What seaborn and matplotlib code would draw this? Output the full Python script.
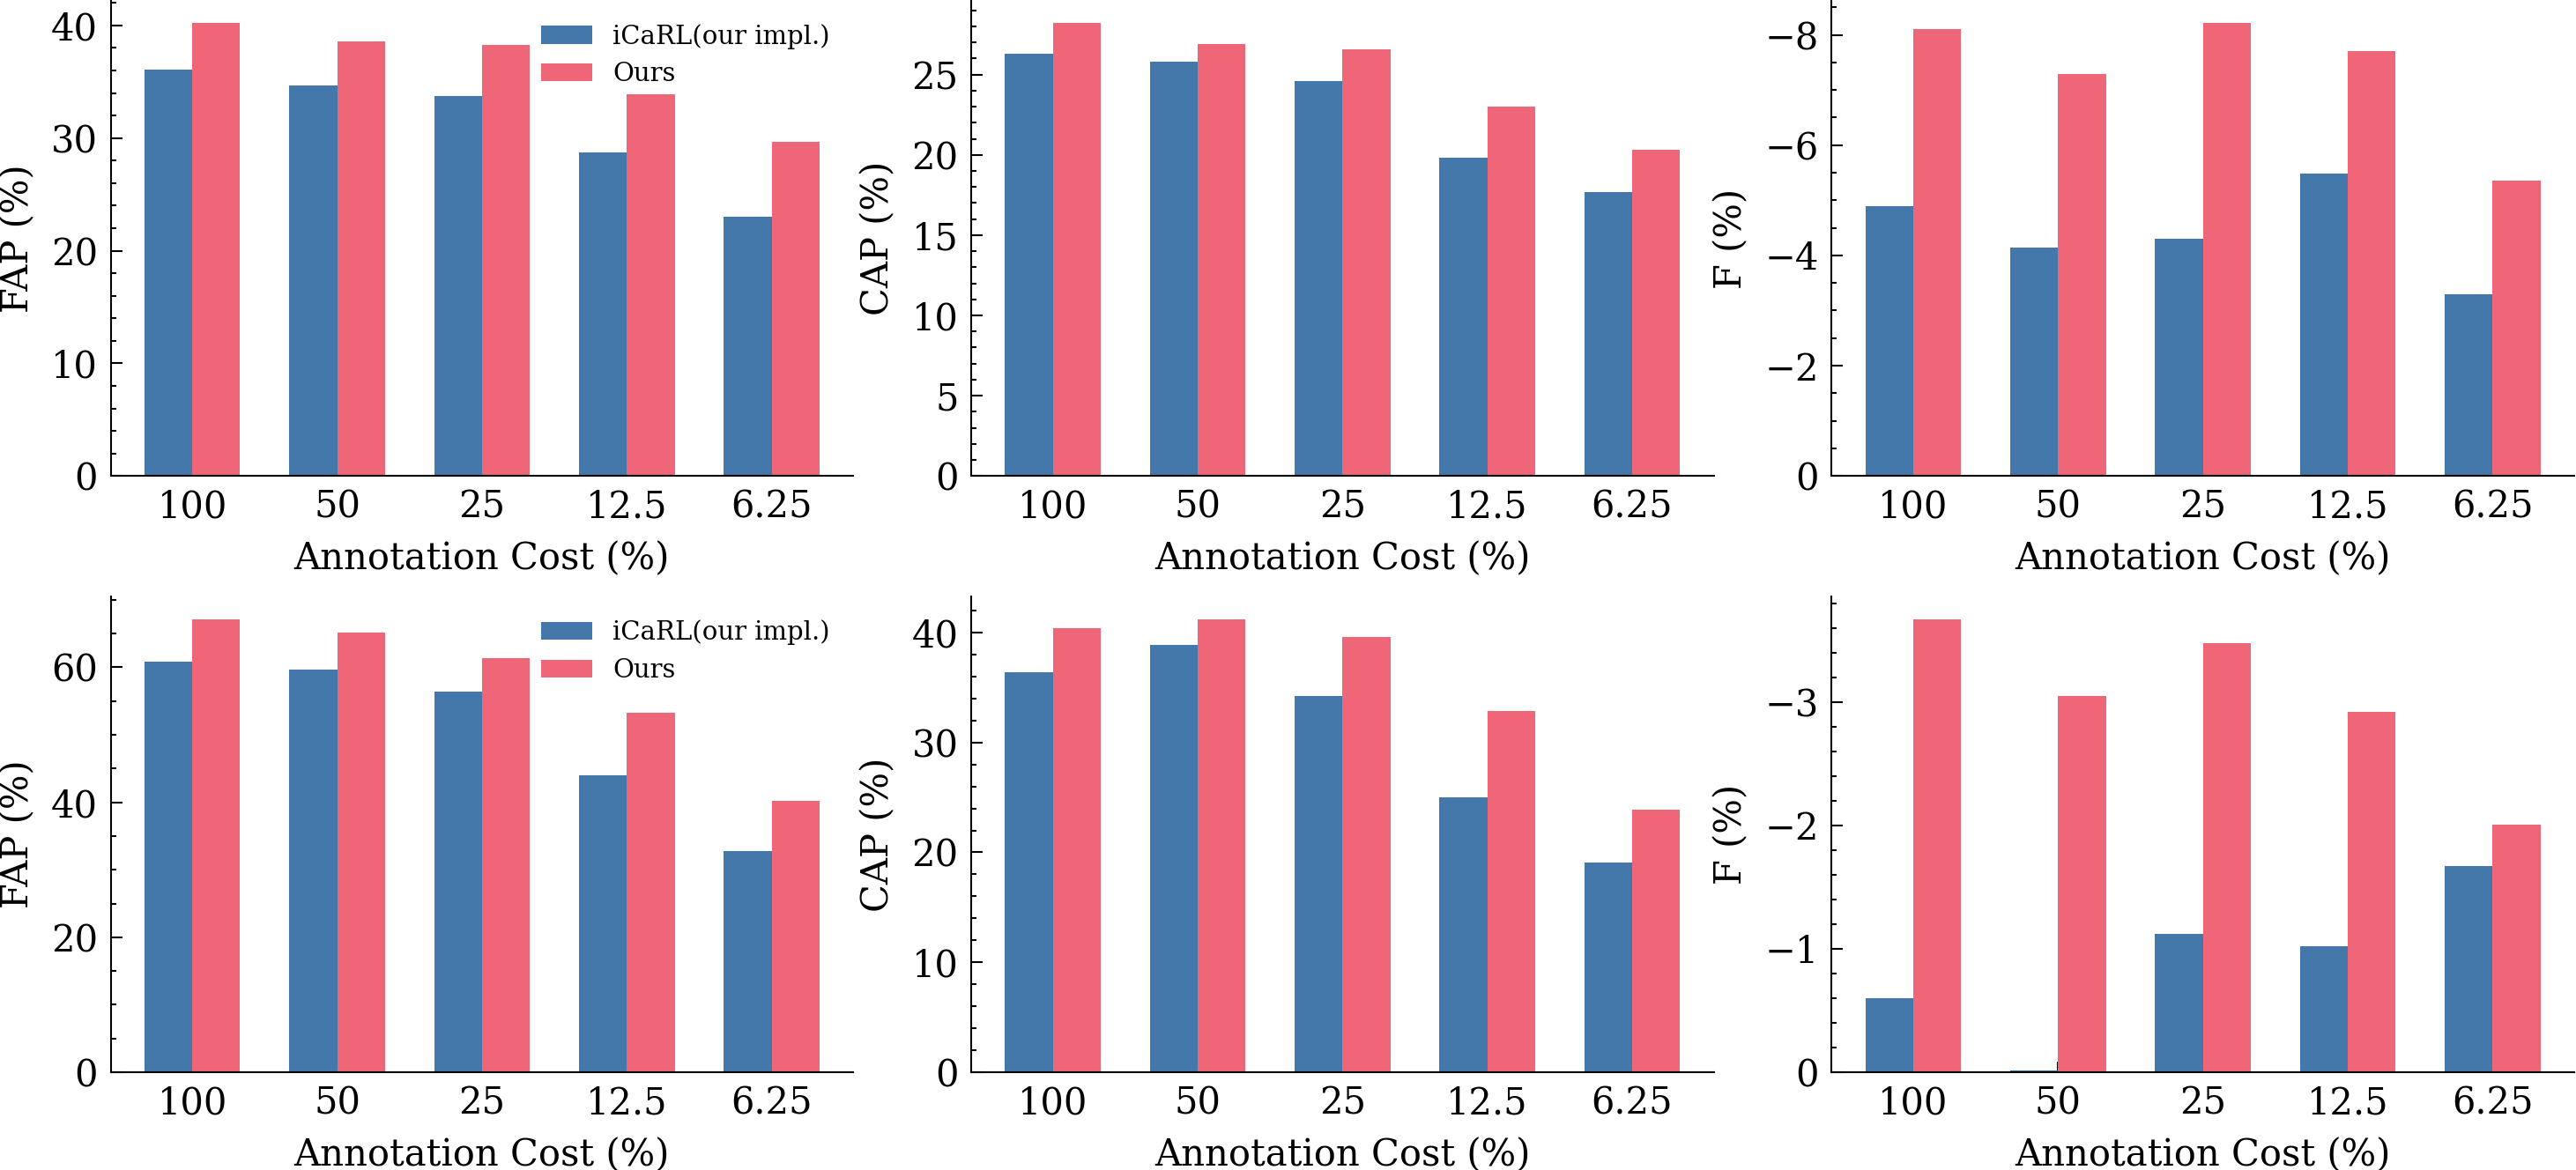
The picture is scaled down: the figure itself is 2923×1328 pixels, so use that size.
import pandas as pd
import matplotlib.pyplot as plt
import seaborn as sns
from matplotlib.ticker import AutoMinorLocator

# annotation cost (%) on the x axis
costs = ['100', '50', '25', '12.5', '6.25']
methods = ['iCaRL(our impl.)', 'Ours']

# top row
fap_top_icarl = [36.1, 34.7, 33.7, 28.7, 23.0]
fap_top_ours = [40.2, 38.6, 38.3, 33.9, 29.7]
cap_top_icarl = [26.3, 25.8, 24.6, 19.8, 17.7]
cap_top_ours = [28.2, 26.9, 26.6, 23.0, 20.3]
f_top_icarl = [-4.89, -4.15, -4.30, -5.48, -3.30]
f_top_ours = [-8.10, -7.29, -8.21, -7.71, -5.36]

# bottom row
fap_bot_icarl = [60.8, 59.6, 56.4, 44.0, 32.8]
fap_bot_ours = [67.1, 65.1, 61.3, 53.3, 40.2]
cap_bot_icarl = [36.4, 38.9, 34.2, 25.0, 19.1]
cap_bot_ours = [40.4, 41.2, 39.6, 32.9, 23.9]
f_bot_icarl = [-0.60, -0.015, -1.12, -1.02, -1.67]
f_bot_ours = [-3.67, -3.05, -3.48, -2.92, -2.01]

sns.set_style('ticks', {'axes.edgecolor': 'black', 'xtick.color': 'black',
                        'ytick.color': 'black', 'text.color': 'black',
                        'axes.labelcolor': 'black'})
plt.rcParams['font.family'] = ['DejaVu Serif']
plt.rcParams['axes.linewidth'] = 0.5

palette = {'iCaRL(our impl.)': '#4477AA', 'Ours': '#EE6677'}


def make_df(icarl, ours):
    return pd.DataFrame({
        'cost': costs * 2,
        'method': [methods[0]] * len(costs) + [methods[1]] * len(costs),
        'value': list(icarl) + list(ours),
    })


panels = [
    (fap_top_icarl, fap_top_ours, 'FAP (%)', True, False),
    (cap_top_icarl, cap_top_ours, 'CAP (%)', False, False),
    (f_top_icarl, f_top_ours, 'F (%)', False, True),
    (fap_bot_icarl, fap_bot_ours, 'FAP (%)', True, False),
    (cap_bot_icarl, cap_bot_ours, 'CAP (%)', False, False),
    (f_bot_icarl, f_bot_ours, 'F (%)', False, True),
]

fig, axes = plt.subplots(2, 3, figsize=(2923 / 300, 1328 / 300), dpi=300)
fig.subplots_adjust(left=0.043, right=0.9993, bottom=0.0836, top=0.9995,
                    wspace=0.159, hspace=0.254)

for ax, (icarl, ours, ylabel, show_legend, invert) in zip(axes.flat, panels):
    df = make_df(icarl, ours)
    sns.barplot(data=df, x='cost', y='value', hue='method', order=costs,
                hue_order=methods, palette=palette, width=0.66,
                linewidth=0, saturation=1, legend=show_legend, ax=ax)
    ax.autoscale(axis='x')
    if invert:
        ax.invert_yaxis()
    ax.set_xlabel('Annotation Cost (%)', fontsize=10)
    ax.set_ylabel(ylabel, fontsize=10)
    ax.yaxis.set_minor_locator(AutoMinorLocator())
    ax.tick_params(which='both', direction='in', labelsize=10, width=0.5,
                   color='black', labelcolor='black')
    ax.tick_params(which='major', length=3)
    ax.tick_params(which='minor', length=1.5)
    sns.despine(ax=ax)
    if show_legend:
        ax.legend(loc='upper right', frameon=False, fontsize=7)

fig.savefig('out.png', dpi=300)
